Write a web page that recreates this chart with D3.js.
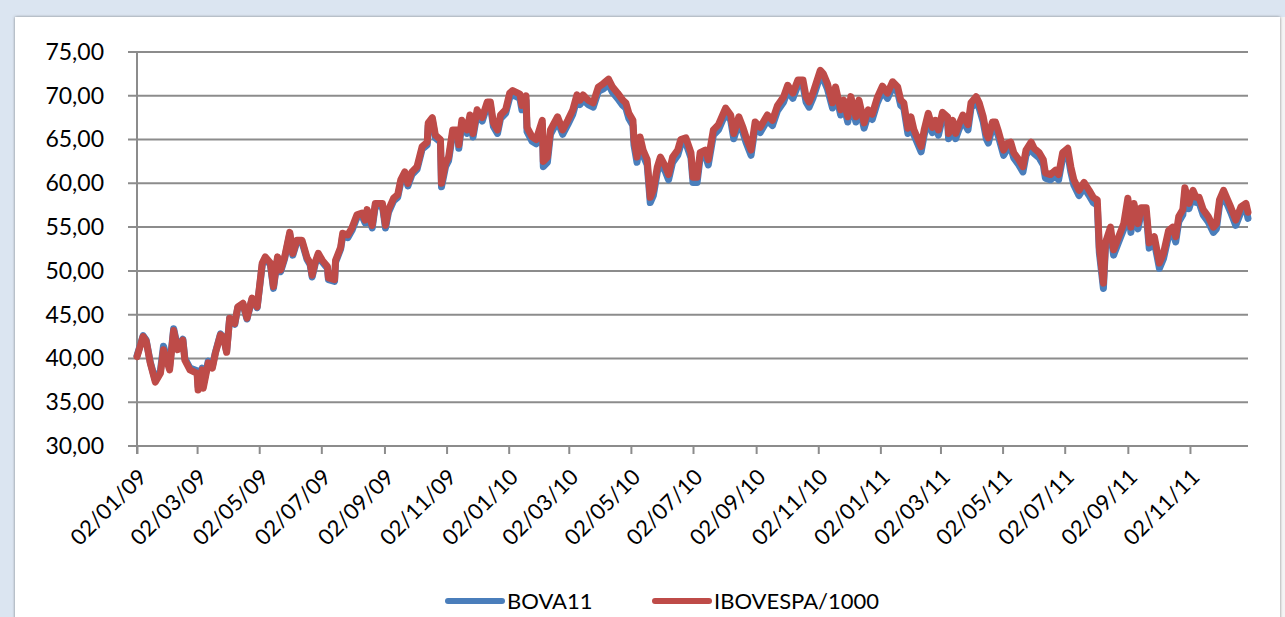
<!DOCTYPE html>
<html>
<head>
<meta charset="utf-8">
<script src="https://cdn.jsdelivr.net/npm/d3@7"></script>
<style>
  body { margin: 0; background: #dbe5f1; }
  text { font-family: Lato, "Open Sans", sans-serif; }
</style>
</head>
<body>
<div id="chart-container"></div>
<script>
// data
const dates = [
  "2009-01-02","2009-01-08","2009-01-11","2009-01-15","2009-01-20","2009-01-25","2009-01-28","2009-02-03","2009-02-07","2009-02-11",
  "2009-02-16","2009-02-18","2009-02-23","2009-03-02","2009-03-03","2009-03-07","2009-03-08","2009-03-13","2009-03-17","2009-03-20",
  "2009-03-25","2009-03-28","2009-03-31","2009-04-03","2009-04-08","2009-04-11","2009-04-16","2009-04-20","2009-04-25","2009-04-30",
  "2009-05-05","2009-05-08","2009-05-13","2009-05-16","2009-05-20","2009-05-23","2009-05-27","2009-06-01","2009-06-04","2009-06-08",
  "2009-06-13","2009-06-18","2009-06-21","2009-06-23","2009-06-26","2009-06-29","2009-07-03","2009-07-08","2009-07-09","2009-07-15",
  "2009-07-16","2009-07-21","2009-07-23","2009-07-28","2009-08-01","2009-08-06","2009-08-11","2009-08-14","2009-08-16","2009-08-21",
  "2009-08-24","2009-08-31","2009-09-03","2009-09-06","2009-09-11","2009-09-15","2009-09-18","2009-09-22","2009-09-25","2009-09-29",
  "2009-10-04","2009-10-09","2009-10-14","2009-10-15","2009-10-19","2009-10-22","2009-10-27","2009-10-28","2009-11-01","2009-11-04",
  "2009-11-08","2009-11-13","2009-11-14","2009-11-17","2009-11-22","2009-11-25","2009-11-28","2009-12-02","2009-12-07","2009-12-12",
  "2009-12-15","2009-12-18","2009-12-22","2009-12-25","2009-12-30","2010-01-03","2010-01-06","2010-01-13","2010-01-15","2010-01-19",
  "2010-01-20","2010-01-25","2010-01-29","2010-02-04","2010-02-05","2010-02-09","2010-02-12","2010-02-19","2010-02-24","2010-03-01",
  "2010-03-06","2010-03-10","2010-03-13","2010-03-16","2010-03-21","2010-03-26","2010-03-31","2010-04-05","2010-04-10","2010-04-14",
  "2010-04-19","2010-04-24","2010-04-27","2010-04-30","2010-05-04","2010-05-05","2010-05-08","2010-05-11","2010-05-14","2010-05-18",
  "2010-05-21","2010-05-24","2010-05-28","2010-05-31","2010-06-05","2010-06-08","2010-06-12","2010-06-17","2010-06-20","2010-06-25",
  "2010-06-30","2010-07-02","2010-07-06","2010-07-09","2010-07-14","2010-07-17","2010-07-22","2010-07-27","2010-08-03","2010-08-08",
  "2010-08-11","2010-08-16","2010-08-20","2010-08-23","2010-08-28","2010-09-01","2010-09-06","2010-09-13","2010-09-18","2010-09-23",
  "2010-09-29","2010-10-03","2010-10-08","2010-10-13","2010-10-18","2010-10-21","2010-10-24","2010-10-28","2010-11-04","2010-11-07",
  "2010-11-11","2010-11-16","2010-11-19","2010-11-24","2010-11-27","2010-12-01","2010-12-04","2010-12-09","2010-12-12","2010-12-17",
  "2010-12-21","2010-12-25","2010-12-30","2011-01-04","2011-01-09","2011-01-14","2011-01-19","2011-01-22","2011-01-25","2011-01-29",
  "2011-02-01","2011-02-04","2011-02-11","2011-02-14","2011-02-18","2011-02-22","2011-02-25","2011-02-28","2011-03-04","2011-03-09",
  "2011-03-10","2011-03-14","2011-03-17","2011-03-20","2011-03-24","2011-03-29","2011-04-01","2011-04-06","2011-04-09","2011-04-13",
  "2011-04-16","2011-04-18","2011-04-22","2011-04-25","2011-04-28","2011-05-03","2011-05-07","2011-05-10","2011-05-13","2011-05-18",
  "2011-05-22","2011-05-25","2011-05-30","2011-06-02","2011-06-07","2011-06-11","2011-06-13","2011-06-18","2011-06-23","2011-06-26",
  "2011-06-30","2011-07-05","2011-07-08","2011-07-11","2011-07-16","2011-07-21","2011-07-26","2011-07-30","2011-08-03","2011-08-05",
  "2011-08-09","2011-08-11","2011-08-16","2011-08-19","2011-08-24","2011-08-29","2011-09-02","2011-09-05","2011-09-08","2011-09-12",
  "2011-09-15","2011-09-20","2011-09-23","2011-09-28","2011-10-03","2011-10-07","2011-10-12","2011-10-16","2011-10-19","2011-10-22",
  "2011-10-26","2011-10-28","2011-11-01","2011-11-05","2011-11-08","2011-11-11","2011-11-15","2011-11-20","2011-11-25","2011-11-28",
  "2011-12-01","2011-12-05","2011-12-09","2011-12-12","2011-12-17","2011-12-22","2011-12-27","2011-12-29"
];

const ibovespa = [
  40.2,42.5,42.0,39.5,37.3,38.3,41.0,38.7,43.2,41.0,
  42.1,39.8,38.7,38.3,36.4,38.7,36.6,39.5,38.9,40.6,
  42.7,42.4,40.7,44.6,44.0,45.9,46.3,44.6,46.9,45.9,
  50.9,51.6,50.9,48.2,51.6,50.1,51.6,54.4,52.0,53.5,
  53.5,51.5,50.9,49.5,51.0,52.0,51.2,50.5,49.2,49.0,
  51.2,52.7,54.3,54.1,54.9,56.4,56.6,55.8,57.0,55.2,
  57.7,57.7,55.2,57.0,58.3,58.7,60.4,61.3,60.0,61.3,
  61.9,64.2,64.7,66.9,67.5,65.5,65.0,60.0,62.3,63.0,
  66.1,66.1,64.4,67.2,66.1,67.8,65.7,68.4,67.5,69.3,
  69.3,66.9,66.1,67.8,68.4,70.3,70.6,70.2,68.9,70.0,
  66.4,65.3,65.0,67.2,62.5,63.0,66.1,67.6,66.1,67.2,
  68.4,70.1,69.5,70.1,69.5,69.2,71.0,71.4,71.9,71.0,
  70.3,69.5,69.2,68.0,67.2,65.0,63.0,65.3,63.8,62.7,
  58.4,59.2,61.9,63.0,61.9,61.0,63.0,63.8,65.0,65.2,
  63.5,60.7,60.7,63.5,63.8,62.7,66.1,66.7,68.6,67.8,
  65.7,67.6,66.4,65.3,63.8,67.0,66.4,67.8,67.2,68.9,
  69.9,71.2,70.3,71.8,71.8,69.9,69.3,70.4,72.9,72.5,
  71.4,69.2,71.0,68.4,69.5,67.6,69.9,67.6,69.5,66.9,
  68.4,67.9,69.8,71.1,70.3,71.6,71.0,69.5,69.2,66.3,
  67.6,66.1,64.2,66.1,68.0,66.4,67.2,66.1,68.1,67.6,
  65.7,67.2,65.7,66.7,67.8,66.7,69.2,69.9,69.2,67.6,
  65.7,65.2,67.0,67.0,65.9,63.8,64.6,64.7,63.5,62.7,
  61.9,63.8,64.7,64.0,63.5,62.7,61.2,61.0,61.5,61.0,
  63.5,64.0,61.9,60.4,59.2,60.1,59.2,58.4,58.1,52.7,
  48.6,53.2,55.0,52.4,53.9,55.4,58.3,55.0,57.7,55.4,
  57.2,57.2,53.2,53.9,50.9,52.0,54.6,55.0,53.9,56.2,
  57.0,59.5,57.7,59.2,58.4,58.4,57.0,56.2,55.0,55.4,
  58.1,59.2,58.1,57.3,55.8,57.3,57.7,56.7
];

const bova11 = [
  40.3,42.6,42.1,39.6,37.5,38.6,41.4,39.0,43.4,41.2,
  42.2,40.0,38.9,38.6,36.8,38.9,37.0,39.7,39.1,40.7,
  42.8,42.4,40.8,44.6,43.9,45.8,46.2,44.5,46.8,45.8,
  50.7,51.4,50.7,48.0,51.4,49.9,51.4,54.2,51.8,53.3,
  53.3,51.3,50.7,49.3,50.8,51.8,51.0,50.3,49.0,48.8,
  51.0,52.5,54.0,53.8,54.6,56.1,56.3,55.5,56.7,54.9,
  57.4,57.4,54.9,56.7,58.0,58.4,60.1,61.0,59.7,61.0,
  61.6,63.9,64.4,66.6,67.2,65.2,64.7,59.6,61.9,62.6,
  65.7,65.7,64.0,66.8,65.7,67.4,65.3,68.0,67.1,68.9,
  68.9,66.5,65.7,67.4,68.0,69.8,70.1,69.7,68.4,69.5,
  65.9,64.8,64.5,66.7,61.9,62.4,65.6,67.1,65.6,66.7,
  67.9,69.6,69.0,69.6,69.0,68.7,70.5,70.8,71.3,70.4,
  69.7,68.9,68.6,67.4,66.6,64.4,62.4,64.7,63.2,62.1,
  57.8,58.6,61.3,62.4,61.3,60.4,62.4,63.2,64.4,64.6,
  62.9,60.1,60.1,62.9,63.2,62.1,65.5,66.1,68.0,67.2,
  65.1,67.0,65.8,64.7,63.2,66.4,65.8,67.2,66.6,68.3,
  69.3,70.6,69.7,71.2,71.2,69.3,68.7,69.8,72.3,71.9,
  70.8,68.6,70.4,67.8,68.9,67.0,69.3,67.0,68.9,66.3,
  67.8,67.3,69.2,70.5,69.7,71.0,70.4,68.9,68.6,65.7,
  67.0,65.5,63.6,65.5,67.4,65.8,66.6,65.5,67.5,67.0,
  65.1,66.6,65.1,66.1,67.2,66.1,68.6,69.3,68.6,67.0,
  65.1,64.6,66.4,66.4,65.3,63.2,64.0,64.1,62.9,62.1,
  61.3,63.2,64.1,63.4,62.9,62.1,60.6,60.4,60.9,60.4,
  62.9,63.4,61.3,59.8,58.6,59.5,58.6,57.8,57.5,52.1,
  48.0,52.6,54.4,51.8,53.3,54.8,57.7,54.4,57.1,54.8,
  56.6,56.6,52.6,53.3,50.3,51.4,54.0,54.4,53.3,55.6,
  56.4,58.9,57.1,58.6,57.8,57.8,56.4,55.6,54.4,54.8,
  57.5,58.6,57.5,56.7,55.2,56.7,57.1,56.0
];

const y_ticks = [30, 35, 40, 45, 50, 55, 60, 65, 70, 75];
const x_ticks = [
  "2009-01-02","2009-03-02","2009-05-02","2009-07-02","2009-09-02","2009-11-02",
  "2010-01-02","2010-03-02","2010-05-02","2010-07-02","2010-09-02","2010-11-02",
  "2011-01-02","2011-03-02","2011-05-02","2011-07-02","2011-09-02","2011-11-02"
];
const series_names = ["BOVA11", "IBOVESPA/1000"];
const series_colors = ["#4a7ebb", "#be4b48"];

// layout
const width = 1285;
const height = 617;
const plot_left = 137;
const plot_right = 1248;
const plot_top = 52;
const plot_bottom = 446;
const grid_color = "#8c8c8c";

const parse = d3.timeParse("%Y-%m-%d");
const fmt_date = d3.timeFormat("%d/%m/%y");

var svg = d3.select("#chart-container")
    .append("svg")
    .attr("width", width)
    .attr("height", height)
    .style("display", "block");

// outer background and chart area with a soft shadow
svg.append("rect").attr("width", width).attr("height", height).attr("fill", "#dbe5f1");
svg.append("rect").attr("x", 1278).attr("y", 17).attr("width", 7).attr("height", height).attr("fill", "#f4f4f4");

const defs = svg.append("defs");
const shadow = defs.append("filter").attr("id", "shadow")
    .attr("x", "-5%").attr("y", "-5%").attr("width", "110%").attr("height", "110%");
shadow.append("feDropShadow")
    .attr("dx", 0).attr("dy", 0).attr("stdDeviation", 1.6)
    .attr("flood-color", "#555").attr("flood-opacity", 0.7);

svg.append("rect")
    .attr("x", 15).attr("y", 17)
    .attr("width", 1265).attr("height", 640)
    .attr("fill", "#fff")
    .attr("filter", "url(#shadow)");

// scales
var x_scale = d3.scaleTime()
    .domain([parse(dates[0]), parse(dates[dates.length - 1])])
    .range([plot_left, plot_right]);

var y_scale = d3.scaleLinear()
    .domain([30, 75])
    .range([plot_bottom, plot_top]);

// gridlines
svg.append("g")
    .selectAll("line")
    .data(y_ticks)
    .enter()
    .append("line")
    .attr("x1", plot_left - 9)
    .attr("x2", plot_right)
    .attr("y1", d => y_scale(d))
    .attr("y2", d => y_scale(d))
    .attr("stroke", grid_color)
    .attr("stroke-width", 2);

// y axis
const y_axis = svg.append("g")
    .attr("transform", `translate(${plot_left}, 0)`)
    .call(d3.axisLeft(y_scale)
        .tickValues(y_ticks)
        .tickSize(0)
        .tickFormat(d => d3.format(".2f")(d).replace(".", ",")));
y_axis.select(".domain").remove();
y_axis.selectAll(".tick line").remove();
y_axis.selectAll("text")
    .attr("x", -33)
    .attr("font-size", 23)
    .attr("fill", "#000")
    .style("font-family", "Lato, sans-serif");

svg.append("line")
    .attr("x1", plot_left).attr("x2", plot_left)
    .attr("y1", plot_top).attr("y2", plot_bottom + 8)
    .attr("stroke", grid_color).attr("stroke-width", 2);

// x axis
const x_axis = svg.append("g")
    .attr("transform", `translate(0, ${plot_bottom})`)
    .call(d3.axisBottom(x_scale)
        .tickValues(x_ticks.map(parse))
        .tickSize(8)
        .tickFormat(fmt_date));
x_axis.select(".domain").remove();
x_axis.selectAll(".tick line")
    .attr("stroke", grid_color)
    .attr("stroke-width", 2);
x_axis.selectAll("text")
    .attr("font-size", 22)
    .attr("fill", "#000")
    .style("font-family", "Lato, sans-serif")
    .attr("text-anchor", "end")
    .attr("dy", "0.35em")
    .attr("y", 0)
    .attr("transform", "translate(5, 27) rotate(-45)");

// lines
const rows = dates.map((d, i) => ({date: parse(d), bova: bova11[i], ibov: ibovespa[i]}));

const line_bova = d3.line().x(d => x_scale(d.date)).y(d => y_scale(d.bova));
const line_ibov = d3.line().x(d => x_scale(d.date)).y(d => y_scale(d.ibov));

svg.append("path")
    .datum(rows)
    .attr("d", line_bova)
    .attr("fill", "none")
    .attr("stroke", series_colors[0])
    .attr("stroke-width", 7)
    .attr("stroke-linejoin", "round")
    .attr("stroke-linecap", "round");

svg.append("path")
    .datum(rows)
    .attr("d", line_ibov)
    .attr("fill", "none")
    .attr("stroke", series_colors[1])
    .attr("stroke-width", 7)
    .attr("stroke-linejoin", "round")
    .attr("stroke-linecap", "round");

// legend
const legend_x = [448, 655];
const legend = svg.append("g").attr("class", "legend");
series_names.forEach((name, i) => {
    legend.append("line")
        .attr("x1", legend_x[i]).attr("x2", legend_x[i] + 54)
        .attr("y1", 601).attr("y2", 601)
        .attr("stroke", series_colors[i])
        .attr("stroke-width", 6)
        .attr("stroke-linecap", "round");
    legend.append("text")
        .attr("x", legend_x[i] + 59)
        .attr("y", 609)
        .attr("font-size", 22)
        .attr("fill", "#000")
        .text(name);
});
</script>
</body>
</html>
